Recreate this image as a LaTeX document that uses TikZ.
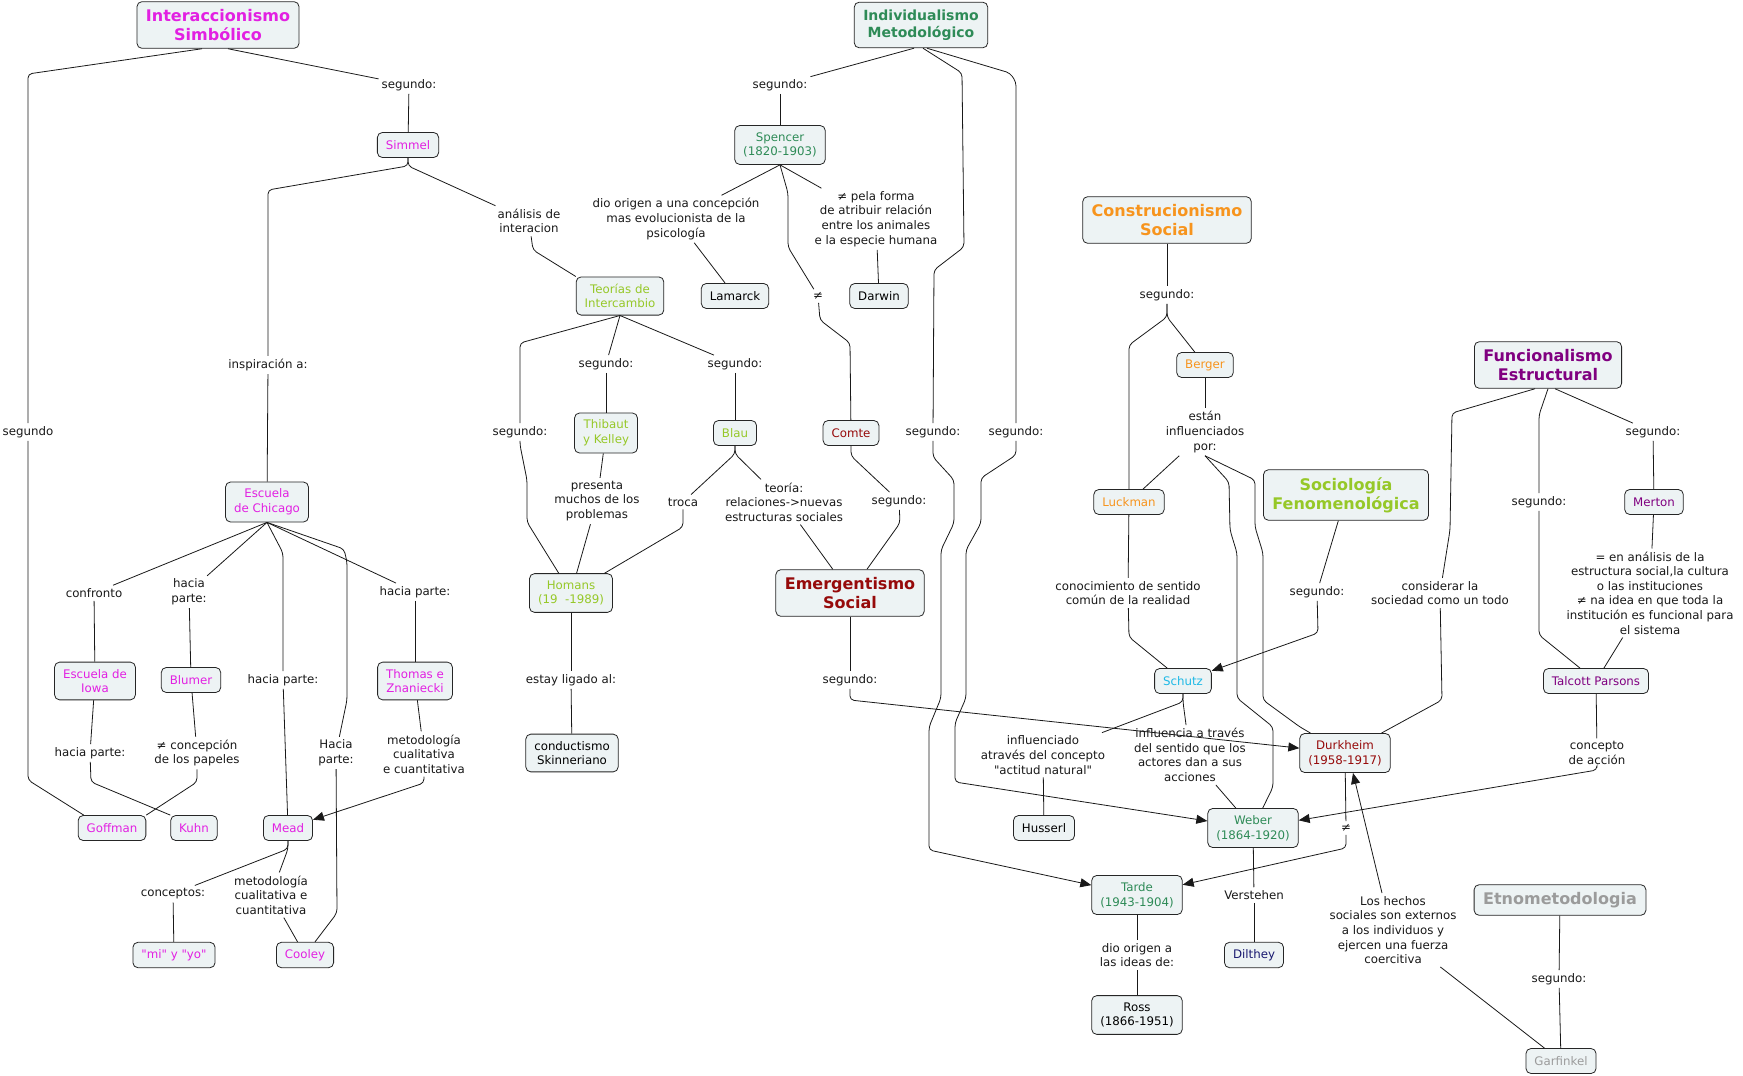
\documentclass[tikz,border=0pt]{standalone}
\usepackage{fontspec}
\setmainfont{DejaVu Sans}[Ligatures=TeXOff]
\usetikzlibrary{arrows.meta}
\definecolor{cfill}{RGB}{237,243,244}
\definecolor{cmag}{RGB}{226,32,226}
\definecolor{csea}{RGB}{46,139,87}
\definecolor{cyg}{RGB}{150,200,40}
\definecolor{cdred}{RGB}{150,10,10}
\definecolor{corange}{RGB}{247,148,29}
\definecolor{csky}{RGB}{30,185,230}
\definecolor{cpurp}{RGB}{128,0,128}
\definecolor{cnavy}{RGB}{25,25,112}
\definecolor{cgray}{RGB}{155,155,155}
\begin{document}
\begin{tikzpicture}[x=1pt,y=-1pt,
 concept/.style={draw=black!85, line width=0.8pt, rounded corners=5pt, fill=cfill, align=center, inner xsep=8.5pt, inner ysep=7pt, minimum height=25pt, font=\fontsize{11.8}{14.6}\selectfont},
 ttl/.style={concept, inner xsep=9pt, inner ysep=7.5pt, font=\fontsize{16}{19.3}\selectfont\bfseries},
 lbl/.style={align=center, inner sep=3pt, font=\fontsize{11.8}{14.6}\selectfont, text=black!90},
 conn/.style={draw=black!90, line width=0.8pt, rounded corners=4pt},
 arr/.style={conn, -{Triangle[length=11pt,width=9pt]}}]
\fill[white] (0,0) rectangle (1743,1076);
\useasboundingbox (0,0) rectangle (1743,1076);

% ---------- concepts ----------
\node[ttl, text=cmag] (is) at (218,25) {Interaccionismo\\Simbólico};
\node[concept, text=cmag] (simmel) at (408,145) {Simmel};
\node[concept, text=cmag] (chicago) at (267,502) {Escuela\\de Chicago};
\node[concept, text=cmag] (iowa) at (95,681) {Escuela de\\Iowa};
\node[concept, text=cmag] (blumer) at (191,680) {Blumer};
\node[concept, text=cmag] (thomas) at (415,681) {Thomas e\\Znaniecki};
\node[concept, text=cmag] (goffman) at (112,828) {Goffman};
\node[concept, text=cmag] (kuhn) at (194,828) {Kuhn};
\node[concept, text=cmag] (mead) at (288,828) {Mead};
\node[concept, text=cmag] (miyo) at (174,955) {"mi" y "yo"};
\node[concept, text=cmag] (cooley) at (305,955) {Cooley};

\node[ttl, text=csea, font=\fontsize{14}{17}\selectfont\bfseries] (im) at (921,25) {Individualismo\\Metodológico};
\node[concept, text=csea] (spencer) at (780,145) {Spencer\\(1820-1903)};
\node[concept, text=cyg] (teorias) at (620,296) {Teorías de\\Intercambio};
\node[concept] (lamarck) at (735,296) {Lamarck};
\node[concept] (darwin) at (879,296) {Darwin};
\node[concept, text=cyg] (thibaut) at (606,433) {Thibaut\\y Kelley};
\node[concept, text=cyg] (blau) at (735,433) {Blau};
\node[concept, text=cdred] (comte) at (851,433) {Comte};
\node[concept, text=cyg] (homans) at (571,593) {Homans\\(19\ \ -1989)};
\node[ttl, text=cdred] (emerg) at (850,593) {Emergentismo\\Social};
\node[concept] (conduct) at (572,753) {conductismo\\Skinneriano};

\node[ttl, text=corange] (construc) at (1167,220) {Construcionismo\\Social};
\node[concept, text=corange] (berger) at (1205,365) {Berger};
\node[concept, text=corange] (luckman) at (1129,502) {Luckman};
\node[ttl, text=cyg] (socfen) at (1346,495) {Sociología\\Fenomenológica};
\node[concept, text=csky] (schutz) at (1183,681) {Schutz};
\node[concept] (husserl) at (1044,828) {Husserl};
\node[concept, text=csea] (weber) at (1253,828) {Weber\\(1864-1920)};
\node[concept, text=cdred] (durkheim) at (1345,753) {Durkheim\\(1958-1917)};
\node[concept, text=csea] (tarde) at (1137,895) {Tarde\\(1943-1904)};
\node[concept] (ross) at (1137,1015) {Ross\\(1866-1951)};
\node[concept, text=cnavy] (dilthey) at (1254,955) {Dilthey};
\node[ttl, text=cpurp] (func) at (1548,365) {Funcionalismo\\Estructural};
\node[concept, text=cpurp] (merton) at (1654,502) {Merton};
\node[concept, text=cpurp] (talcott) at (1596,681) {Talcott Parsons};
\node[ttl, text=cgray] (etno) at (1560,900) {Etnometodologia};
\node[concept, text=cgray] (garfinkel) at (1561,1061) {Garfinkel};

% ---------- linking phrases ----------
\node[lbl] (l1) at (28,432) {segundo};
\node[lbl] (l2) at (409,85) {segundo:};
\node[lbl] (l3) at (268,365) {inspiración a:};
\node[lbl] (l4) at (529,221) {análisis de\\interacion};
\node[lbl] (l5) at (94,593) {confronto};
\node[lbl] (l6) at (189,592) {hacia\\parte:};
\node[lbl] (l7) at (283,680) {hacia parte:};
\node[lbl] (l8) at (336,753) {Hacia\\parte:};
\node[lbl] (l9) at (415,592) {hacia parte:};
\node[lbl] (l10) at (90,753) {hacia parte:};
\node[lbl] (l11) at (197,753) {≠ concepción\\de los papeles};
\node[lbl] (l12) at (424,754) {metodología\\cualitativa\\e cuantitativa};
\node[lbl] (l13) at (173,894) {conceptos:};
\node[lbl] (l14) at (271,895) {metodología\\cualitativa e\\cuantitativa};
\node[lbl] (l15) at (780,85) {segundo:};
\node[lbl] (l16) at (676,219) {dio origen a una concepción\\mas evolucionista de la\\psicología};
\node[lbl] (l17) at (876,219) {≠ pela forma\\de atribuir relación\\entre los animales\\e la especie humana};
\node[lbl] (l18) at (818,296) {≠};
\node[lbl] (l19) at (520,432) {segundo:};
\node[lbl] (l20) at (606,364) {segundo:};
\node[lbl] (l21) at (735,364) {segundo:};
\node[lbl] (l22) at (597,501) {presenta\\muchos de los\\problemas};
\node[lbl] (l23) at (683,502) {troca};
\node[lbl] (l24) at (784,502) {teoría:\\relaciones->nuevas\\estructuras sociales};
\node[lbl] (l25) at (899,501) {segundo:};
\node[lbl] (l26) at (571,680) {estay ligado al:};
\node[lbl] (l27) at (850,680) {segundo:};
\node[lbl] (l28) at (933,432) {segundo:};
\node[lbl] (l29) at (1016,432) {segundo:};
\node[lbl] (l30) at (1167,295) {segundo:};
\node[lbl] (l31) at (1205,432) {están\\influenciados\\por:};
\node[lbl] (l32) at (1128,593) {conocimiento de sentido\\común de la realidad};
\node[lbl] (l33) at (1317,592) {segundo:};
\node[lbl] (l34) at (1043,755) {influenciado\\através del concepto\\"actitud natural"};
\node[lbl] (l35) at (1190,755) {influencia a través\\del sentido que los\\actores dan a sus\\acciones};
\node[lbl] (l36) at (1254,895) {Verstehen};
\node[lbl] (l37) at (1137,955) {dio origen a\\las ideas de:};
\node[lbl] (l38) at (1346,828) {≠};
\node[lbl] (l39) at (1393,930) {Los hechos\\sociales son externos\\a los individuos y\\ejercen una fuerza\\coercitiva};
\node[lbl] (l40) at (1440,593) {considerar la\\sociedad como un todo};
\node[lbl] (l41) at (1539,502) {segundo:};
\node[lbl] (l42) at (1653,432) {segundo:};
\node[lbl] (l43) at (1650,593) {= en análisis de la\\estructura social,la cultura\\o las instituciones\\≠ na idea en que toda la\\institución es funcional para\\el sistema};
\node[lbl] (l44) at (1597,753) {concepto\\de acción};
\node[lbl] (l45) at (1559,979) {segundo:};

% ---------- connectors: Interaccionismo ----------
\draw[conn] ([xshift=-16pt]is.south) -- (28,74) -- (l1);
\draw[conn] (l1) -- (28,780) -- ([xshift=6pt]goffman.north west);
\draw[conn] ([xshift=10pt]is.south) -- (l2);
\draw[conn] (l2) -- (simmel);
\draw[conn] (simmel.south) -- ++(0,8) -- (268,190) -- (l3);
\draw[conn] (l3) -- (chicago);
\draw[conn] (simmel.south) -- ++(0,8) -- (l4);
\draw[conn] (l4) -- (533,250) -- (teorias.north west);
\draw[conn] (chicago.south) -- (l5);
\draw[conn] (l5) -- (iowa);
\draw[conn] (chicago.south) -- (l6);
\draw[conn] (l6) -- (blumer);
\draw[conn] (chicago.south) -- (283,553) -- (l7);
\draw[conn] (l7) -- (mead);
\draw[conn] (chicago.south) -- (344,549) -- (347,562) -- (347,700) -- (l8);
\draw[conn] (l8) -- (337,913) -- (cooley);
\draw[conn] (chicago.south) -- (l9);
\draw[conn] (l9) -- (thomas);
\draw[conn] (iowa) -- (l10);
\draw[conn] (l10) -- (91,782) -- (kuhn.north west);
\draw[conn] (blumer) -- (l11);
\draw[conn] (l11) -- (197,782) -- (goffman.north east);
\draw[conn] (thomas) -- (l12);
\draw[arr] (l12) -- (424,783) -- (mead);
\draw[conn] (mead.south) -- ++(0,8) -- (l13);
\draw[conn] (l13) -- (miyo);
\draw[conn] (mead.south) -- ++(0,8) -- (l14);
\draw[conn] (l14) -- (cooley);

% ---------- connectors: Individualismo ----------
\draw[conn] ([xshift=-7pt]im.south) -- (l15);
\draw[conn] (l15) -- (spencer);
\draw[conn] (spencer.south) -- (l16);
\draw[conn] (l16) -- (lamarck);
\draw[conn] (spencer.south) -- (l17);
\draw[conn] (l17) -- (darwin);
\draw[conn] (spencer.south) -- (788,193) -- (788,247) -- (l18);
\draw[conn] (l18) -- (820,320) -- (850,343) -- (comte);
\draw[conn] (teorias.south) -- (520,343) -- (l19);
\draw[conn] (l19) -- (520,445) -- (527,480) -- (527,522) -- (homans);
\draw[conn] (teorias.south) -- (l20);
\draw[conn] (l20) -- (thibaut);
\draw[conn] (teorias.south) -- (l21);
\draw[conn] (l21) -- (blau);
\draw[conn] (thibaut) -- (l22);
\draw[conn] (l22) -- (homans);
\draw[conn] (blau.south) -- ++(0,8) -- (l23);
\draw[conn] (l23) -- (683,527) -- (homans);
\draw[conn] (blau.south) -- ++(0,8) -- (l24);
\draw[conn] (l24) -- (emerg);
\draw[conn] (comte.south) -- ++(0,10) -- (l25);
\draw[conn] (l25) -- (900,523) -- (emerg);
\draw[conn] (homans) -- (l26);
\draw[conn] (l26) -- (conduct);
\draw[conn] (emerg) -- (l27);
\draw[arr] (l27) -- (850,700) -- (durkheim);
\draw[conn] ([xshift=2pt]im.south) -- (962,73) -- (964,247) -- (934,270) -- (l28);
\draw[arr] (l28) -- (933,457) -- (954,480) -- (954,523) -- (941,550) -- (941,698) -- (929,727) -- (929,850) -- (tarde);
\draw[conn] ([xshift=6pt]im.south) -- (1010,73) -- (1016,82) -- (l29);
\draw[arr] (l29) -- (1016,455) -- (981,478) -- (981,523) -- (966,550) -- (966,698) -- (955,723) -- (955,782) -- (weber);

% ---------- connectors: right side ----------
\draw[conn] (construc) -- (l30);
\draw[conn] (l30) -- (1167,317) -- (1129,345) -- (luckman);
\draw[conn] (l30) -- (1167,317) -- (berger);
\draw[conn] (berger) -- (l31);
\draw[conn] (l31) -- (luckman);
\draw[conn] (l31.south) -- (1229,482) -- (1230,530) -- (1237,553) -- (1237,698) -- (1273,727) -- (1273,787) -- (weber);
\draw[conn] (l31.south) -- (1255,480) -- (1255,527) -- (1263,553) -- (1263,700) -- (1300,727) -- (durkheim);
\draw[conn] (luckman) -- (l32);
\draw[conn] (l32) -- (1129,637) -- (schutz);
\draw[conn] (socfen) -- (l33);
\draw[arr] (l33) -- (1318,633) -- (schutz);
\draw[conn] (schutz.south) -- ++(0,8) -- (l34);
\draw[conn] (l34) -- (husserl);
\draw[conn] (schutz.south) -- ++(0,8) -- (l35);
\draw[conn] (l35) -- (weber);
\draw[conn] (weber) -- (l36);
\draw[conn] (l36) -- (dilthey);
\draw[conn] (tarde) -- (l37);
\draw[conn] (l37) -- (ross);
\draw[conn] (durkheim) -- (l38);
\draw[arr] (l38) -- (1346,848) -- (tarde);
\draw[arr] ([xshift=-11pt]l39.north) -- ([xshift=8pt]durkheim.south);
\draw[conn] (garfinkel) -- (l39);
\draw[conn] (etno) -- (l45);
\draw[conn] (l45) -- (garfinkel);
\draw[conn] ([xshift=-13pt]func.south) -- (1452,413) -- (1450,530) -- (l40);
\draw[conn] (l40) -- (1442,700) -- (durkheim);
\draw[conn] (func.south) -- (1539,415) -- (l41);
\draw[conn] (l41) -- (1539,635) -- (talcott);
\draw[conn] ([xshift=7pt]func.south) -- (l42);
\draw[conn] (l42) -- (merton);
\draw[conn] (merton) -- (l43);
\draw[conn] (l43) -- (talcott);
\draw[conn] (talcott) -- (l44);
\draw[arr] (l44) -- (1597,770) -- (weber);
\end{tikzpicture}
\end{document}
